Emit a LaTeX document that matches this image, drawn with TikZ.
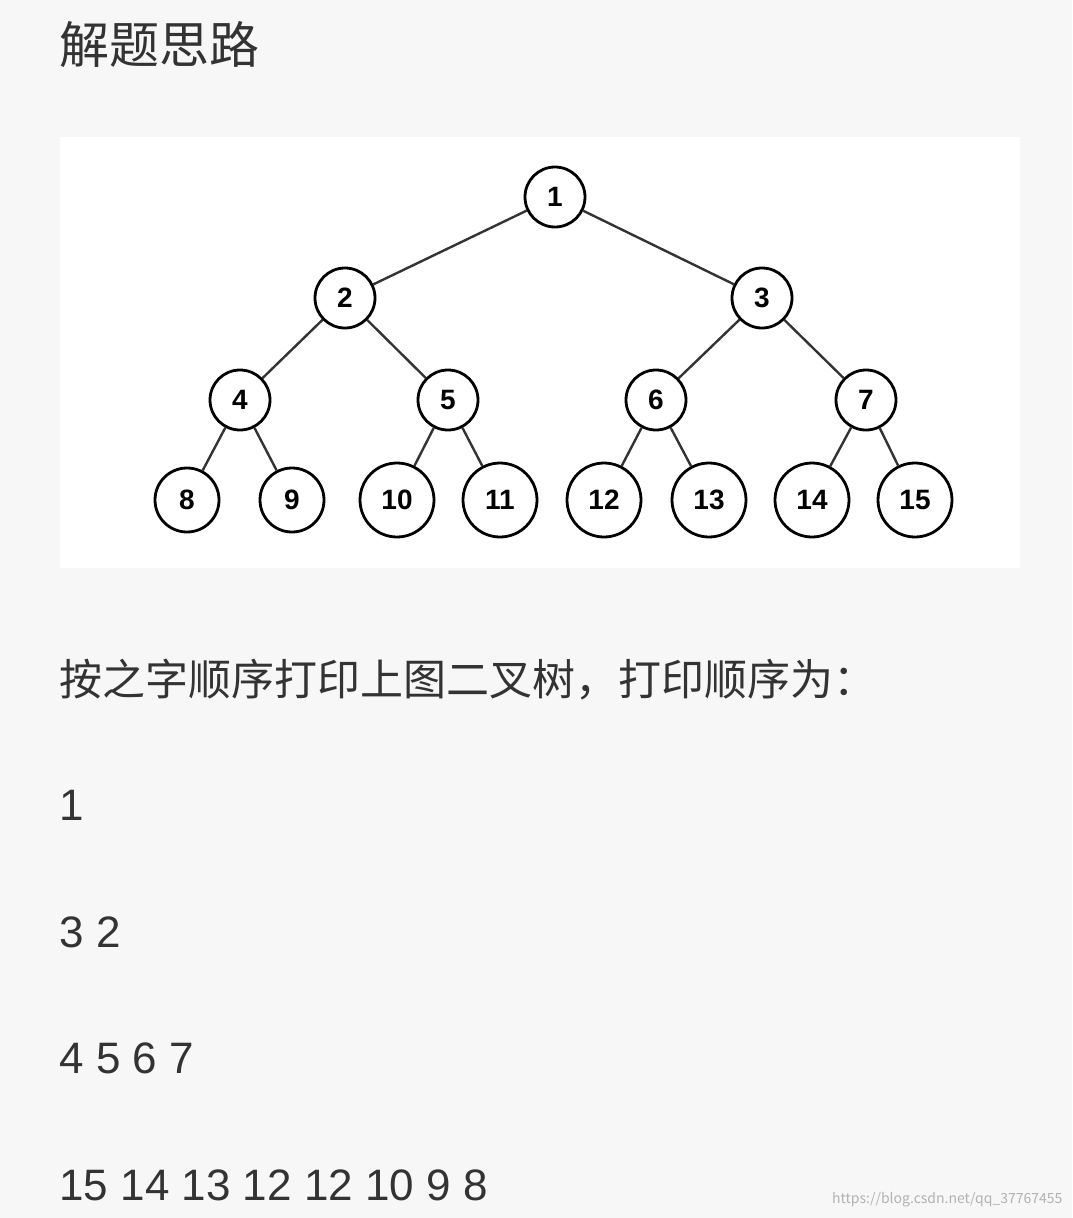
\documentclass[tikz,border=0pt]{standalone}
\usepackage{fontspec}
\setmainfont{Noto Sans CJK SC}
\newfontfamily\treefont{Liberation Sans}
\newfontfamily\numfont{Liberation Sans}
\usetikzlibrary{positioning}
\definecolor{pagegray}{HTML}{F7F7F7}
\definecolor{textgray}{HTML}{333333}
\tikzset{
  vertex/.style={circle, draw=black, line width=2.8pt, fill=white, minimum size=60pt, inner sep=0pt, font=\treefont\bfseries\fontsize{28}{30}\selectfont},
  leaf/.style={vertex, minimum size=74pt},
  edge/.style={line width=2.4pt, black!80},
  line/.style={anchor=west, text=textgray, font=\fontsize{43}{46}\selectfont},
  numline/.style={line, font=\numfont\fontsize{44}{46}\selectfont}
}
\begin{document}
\begin{tikzpicture}[x=1pt, y=-1pt]
  \fill[pagegray] (0,0) rectangle (1072,1218);
  \useasboundingbox (0,0) rectangle (1072,1218);
  \fill[white] (60,137) rectangle (1020,568);

  \node[line, font=\fontsize{50}{54}\selectfont] (title) at (56,45) {解题思路};

  \node[vertex] (1) at (555,197) {1};
  \node[vertex] (2) at (345,298) {2};
  \node[vertex] (3) at (762,298) {3};
  \node[vertex] (4) at (240,400) {4};
  \node[vertex] (5) at (448,400) {5};
  \node[vertex] (6) at (656,400) {6};
  \node[vertex] (7) at (866,400) {7};
  \node[vertex, minimum size=64pt] (8) at (187,500) {8};
  \node[vertex, minimum size=64pt] (9) at (292,500) {9};
  \node[leaf] (10) at (397,500) {10};
  \node[leaf] (11) at (500,500) {11};
  \node[leaf] (12) at (604,500) {12};
  \node[leaf] (13) at (709,500) {13};
  \node[leaf] (14) at (812,500) {14};
  \node[leaf] (15) at (915,500) {15};

  \draw[edge] (1) -- (2);
  \draw[edge] (1) -- (3);
  \draw[edge] (2) -- (4);
  \draw[edge] (2) -- (5);
  \draw[edge] (3) -- (6);
  \draw[edge] (3) -- (7);
  \draw[edge] (4) -- (8);
  \draw[edge] (4) -- (9);
  \draw[edge] (5) -- (10);
  \draw[edge] (5) -- (11);
  \draw[edge] (6) -- (12);
  \draw[edge] (6) -- (13);
  \draw[edge] (7) -- (14);
  \draw[edge] (7) -- (15);

  \node[line] (intro) at (56,680) {按之字顺序打印上图二叉树，打印顺序为：};
  \node[numline] (row1) at (56,805) {1};
  \node[numline] (row2) at (56,932) {3 2};
  \node[numline] (row3) at (56,1058) {4 5 6 7};
  \node[numline] (row4) at (56,1185) {15 14 13 12 12 10 9 8};
  \node[anchor=east, text=black!30, font=\fontsize{14}{16}\selectfont] (mark) at (1066,1200) {https://blog.csdn.net/qq\_37767455};
\end{tikzpicture}
\end{document}
